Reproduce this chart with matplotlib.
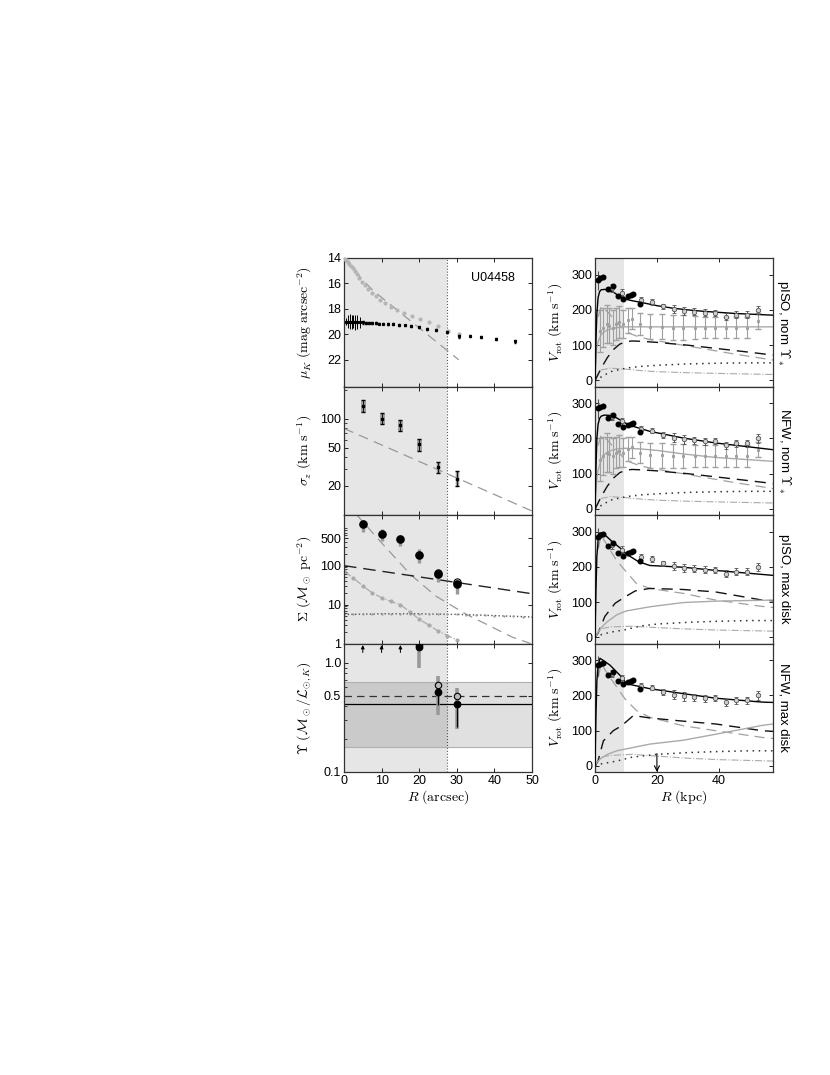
import matplotlib
matplotlib.use("Agg")
import matplotlib.pyplot as plt

plt.rcParams["font.family"] = ["Liberation Sans", "DejaVu Sans"]
plt.rcParams["mathtext.fontset"] = "cm"
plt.rcParams["font.size"] = 9

SHADE = "#e6e6e6"
R_IN_ARC = 27.5
R_IN_KPC = 9.4

# ---------------- left column data (arcsec) ----------------
# surface brightness
sb_gray_r = [0.2, 0.6, 1.0, 1.4, 1.8, 2.3, 2.8, 3.4, 4.1, 4.8, 5.5, 6.3, 7.4, 8.5,
             9.6, 11.0, 12.5, 14.2, 16.0, 18.0, 20.2, 22.5, 25.0, 27.6, 30.6]
sb_gray_mu = [14.05, 14.15, 14.3, 14.45, 14.6, 14.8, 15.0, 15.25, 15.55, 15.85, 16.1, 16.4,
              16.75, 17.0, 17.3, 17.55, 17.85, 18.1, 18.35, 18.55, 18.8, 19.0, 19.35, 19.7, 20.0]
sb_blk_r = [0.6, 1.0, 1.5, 2.0, 2.5, 3.0, 3.5, 4.2, 5.0, 5.8, 6.6, 7.5, 8.4, 9.4, 10.5,
            11.7, 13.0, 14.5, 16.1, 17.9, 19.9, 22.1, 24.6, 27.5, 30.5, 33.5, 36.5, 40.5, 45.5]
sb_blk_mu = [19.0, 19.0, 19.0, 19.0, 19.0, 19.05, 19.05, 19.05, 19.05, 19.1, 19.1, 19.1, 19.1,
             19.15, 19.15, 19.2, 19.2, 19.25, 19.3, 19.35, 19.45, 19.55, 19.65, 19.8, 20.15,
             20.1, 20.2, 20.35, 20.55]
sb_blk_err = [0.3, 0.5, 0.6, 0.55, 0.5, 0.6, 0.55, 0.45, 0.1, 0.08, 0.06, 0.06, 0.06, 0.06,
              0.06, 0.06, 0.06, 0.06, 0.07, 0.07, 0.08, 0.08, 0.08, 0.1, 0.1, 0.08, 0.08, 0.08, 0.1]
sb_disk_r = [0.0, 2.0, 4.0, 7.5, 15.0, 30.5]
sb_disk_mu = [14.05, 14.8, 15.4, 16.5, 18.3, 22.0]

# stellar velocity dispersion
sig_r = [5, 10, 15, 20, 25, 30]
sig_v = [134, 100, 86, 54.5, 31.8, 23.5]
sig_lo = [118, 88, 75, 46, 27.4, 20.0]
sig_hi = [157, 114, 97, 61, 35.7, 28.7]
sig_mod_r = [0, 50]
sig_mod_v = [79, 11]

# surface mass density
sd_r = [5, 10, 15, 20, 25, 30]
sd_v = [1160, 650, 478, 190, 61, 33]
sd_lo = [733, 420, 320, 120, 38, 19]
sd_hi = [1480, 850, 620, 260, 80, 44]
sd_open_r = [25, 30]
sd_open_v = [66, 38.5]
sd_dyn_r = [0, 50]
sd_dyn_v = [100, 19]
sd_star_r = [3.3, 9.3, 17.7, 24.4, 32.4, 44.8, 49.6]
sd_star_v = [2065, 457, 59, 16.6, 5.7, 1.45, 1.0]
sd_gas_r = [0, 2.5, 5, 7.5, 10, 12.5, 15, 17.5, 20, 22.5, 25, 27.5, 30]
sd_gas_v = [71, 48, 30, 20, 15, 12, 10, 6.5, 4.2, 3.0, 2.1, 1.6, 1.25]
sd_hi_r = [0, 2.5, 5, 7.5, 10, 12.5, 15, 17.5, 20, 22.5, 25, 27.5, 30, 32.5, 35, 37.5,
           40, 42.5, 45, 47.5, 50]
sd_hi_v = [5.6, 5.6, 5.7, 5.7, 5.8, 5.8, 5.8, 5.8, 5.8, 5.7, 5.7, 5.6, 5.6, 5.5, 5.4, 5.3,
           5.2, 5.1, 5.0, 4.9, 4.8]

# mass-to-light ratio
ml_r = [20, 25, 30]
ml_v = [1.40, 0.545, 0.415]
ml_open = [1.44, 0.62, 0.50]
ml_glo = [0.9, 0.33, 0.25]
ml_ghi = [1.43, 0.76, 0.59]
ml_blo = [1.30, 0.41, 0.26]
ml_bhi = [1.45, 0.60, 0.42]
ml_lim_r = [5, 10, 15]
ml_lim_v = [1.24, 1.24, 1.24]
ml_mean = 0.415
ml_nom = 0.5
ml_band = (0.17, 0.66)

# ---------------- right column data (kpc) ----------------
vin_r = [1.1, 1.6, 2.5, 4.3, 5.9, 7.5, 8.9, 10.7, 11.6, 12.4, 14.5]
vin_v = [286, 290, 292, 259, 267, 240, 232, 238, 241, 245, 217]
vout_r = [5.4, 8.6, 15.0, 18.3, 22.0, 25.5, 28.7, 32.0, 35.5, 38.9, 42.3, 45.7, 49.2, 52.7]
vout_v = [262, 248, 228, 222, 210, 202, 197, 195, 192, 192, 181, 186, 186, 200]
vout_e = [10, 10, 8, 8, 8, 12, 12, 10, 10, 8, 10, 10, 10, 12]

vh_r = [1.6, 2.7, 3.8, 4.6, 5.7, 6.7, 7.7, 8.9, 10.5, 11.8, 14.5, 17.7, 21.5, 25.3,
        28.5, 32.3, 35.5, 38.9, 42.3, 45.7, 49.2, 52.7]
vh_v = [140, 150, 160, 155, 150, 160, 165, 160, 170, 175, 160, 152, 152, 150,
        150, 150, 150, 150, 150, 150, 150, 168]
vh_e = [60, 55, 55, 50, 50, 45, 45, 40, 35, 30, 30, 35, 35, 35, 35, 32, 30, 30, 30, 30, 30, 22]

# model curves per panel: total, halo, disk, bulge, gas, extra
mods = {
    "pISO, nom": {
        "tot": ([0, 0.3, 0.6, 1, 1.5, 2, 3, 4, 6, 8, 10, 12, 15, 20, 25, 30, 35, 40, 45, 50, 57.5],
                [0, 110, 190, 235, 252, 257, 258, 257, 250, 238, 230, 226, 221, 212, 205, 200, 196, 193, 190, 188, 185]),
        "halo": ([0, 0.5, 1, 2, 3, 4, 6, 8, 10, 15, 20, 30, 40, 57.5],
                 [0, 90, 110, 130, 138, 143, 148, 151, 152, 152, 152, 152, 152, 152]),
        "disk": ([0, 2, 4, 6, 8, 10, 12, 15, 20, 30, 40, 50, 57.5],
                 [0, 35, 65, 88, 103, 110, 112, 111, 108, 100, 90, 80, 72]),
        "bulge": ([1, 2, 4, 7, 9, 11.3, 14, 17.7, 25, 35, 45, 57.5],
                  [180, 210, 195, 165, 148, 133, 124, 116, 105, 90, 75, 58]),
        "gas": ([0, 2, 5, 10, 15, 20, 30, 40, 50, 57.5],
                [0, 10, 25, 35, 40, 43, 47, 49, 50, 50]),
        "dd": ([0, 2, 5, 10, 15, 20, 30, 40, 57.5],
               [0, 30, 35, 32, 28, 25, 22, 20, 17]),
    },
    "NFW, nom": {
        "tot": ([0, 0.3, 0.6, 1, 1.5, 2, 3, 5, 7, 9.7, 12, 17.7, 28.5, 39, 57.5],
                [0, 110, 200, 240, 257, 263, 266, 265, 258, 244, 235, 220, 201, 187, 168]),
        "halo": ([0, 0.5, 1, 2, 3, 5, 7, 9.7, 15, 20, 28.5, 39, 57.5],
                 [0, 80, 110, 140, 155, 165, 170, 172, 170, 166, 156, 146, 135]),
        "disk": ([0, 2, 4, 6, 8, 10, 12, 15, 20, 30, 40, 50, 57.5],
                 [0, 35, 65, 88, 103, 110, 112, 111, 108, 100, 90, 80, 72]),
        "bulge": ([1, 2, 4, 7, 9, 11.3, 14, 17.7, 25, 35, 45, 57.5],
                  [180, 210, 195, 165, 148, 133, 124, 116, 105, 90, 75, 58]),
        "gas": ([0, 2, 5, 10, 15, 20, 30, 40, 50, 57.5],
                [0, 10, 25, 35, 40, 43, 47, 49, 50, 50]),
        "dd": ([0, 2, 5, 10, 15, 20, 30, 40, 57.5],
               [0, 30, 35, 32, 28, 25, 22, 20, 17]),
    },
    "pISO, max disk": {
        "tot": ([0, 0.3, 0.6, 1, 1.5, 2, 3, 5.4, 8.6, 10.2, 14, 17.7, 28.5, 39, 57.5],
                [0, 130, 230, 275, 292, 297, 292, 273, 250, 236, 215, 204, 199, 190, 176]),
        "halo": ([0, 1, 2, 4, 7, 10, 17.7, 28.5, 39, 57.5],
                 [0, 15, 28, 45, 64, 75, 87, 99, 103, 106]),
        "disk": ([0, 1, 3.2, 6.5, 9.7, 13, 17.7, 28.5, 39, 54, 57.5],
                 [0, 13, 60, 97, 115, 132, 139, 136, 129, 106, 104]),
        "bulge": ([1, 2, 4, 7, 9.7, 13.4, 17.7, 28.5, 39, 54, 57.5],
                  [250, 290, 260, 218, 190, 153, 139, 125, 106, 88, 85]),
        "gas": ([0, 2, 5, 9.7, 15, 20, 30, 40, 50, 57.5],
                [0, 8, 15, 22, 33, 38, 43, 46, 48, 48]),
        "dd": ([0, 2, 5, 12, 20, 30, 40, 57.5],
               [0, 25, 30, 32, 28, 24, 21, 18]),
    },
    "NFW, max disk": {
        "tot": ([0, 0.3, 0.6, 1, 1.6, 2.5, 4.8, 8.6, 10.2, 17.7, 28.5, 39, 54, 57.5],
                [0, 140, 240, 285, 305, 300, 286, 252, 233, 219, 205, 192, 181, 180]),
        "halo": ([0, 0.5, 1, 2, 4, 7, 17.7, 28.5, 39, 54, 57.5],
                 [0, 10, 14, 22, 33, 43, 62, 73, 90, 115, 119]),
        "disk": ([0, 1, 2.7, 5.9, 8.6, 12.4, 17.7, 28.5, 39, 54, 57.5],
                 [0, 15, 71, 100, 114, 143, 136, 127, 119, 100, 98]),
        "bulge": ([1, 2, 4, 7, 9.7, 13.4, 17.7, 28.5, 39, 54, 57.5],
                  [250, 290, 262, 224, 190, 157, 138, 114, 100, 81, 78]),
        "gas": ([0, 2, 7, 12, 20, 30, 40, 50, 57.5],
                [0, 6, 14, 25, 33, 38, 41, 43, 43]),
        "dd": ([0, 2, 5, 12, 20, 30, 40, 57.5],
               [0, 25, 30, 33, 28, 22, 18, 14]),
    },
}
panel_names = ["pISO, nom", "NFW, nom", "pISO, max disk", "NFW, max disk"]
side_labels = [r"pISO, nom $\Upsilon_*$", r"NFW, nom $\Upsilon_*$", "pISO, max disk", "NFW, max disk"]

# ---------------- layout ----------------
W, H = 830, 1075
fig = plt.figure(figsize=(W / 100, H / 100), dpi=100)
top0, ph = 258, 128.5


def box(x0, w, row):
    t = top0 + ph * row
    return [x0 / W, 1 - (t + ph) / H, w / W, ph / H]


def style(ax):
    ax.tick_params(direction="in", top=True, right=True, length=3, width=0.6,
                   labelsize=9, pad=2)
    ax.tick_params(which="minor", direction="in", length=1.8, width=0.5)
    for s in ax.spines.values():
        s.set_color("#333333")
        s.set_linewidth(0.9)


def errs(v, lo, hi):
    return [[a - b for a, b in zip(v, lo)], [c - a for a, c in zip(v, hi)]]


left = [fig.add_axes(box(344, 188, i)) for i in range(4)]
right = [fig.add_axes(box(595, 178, i)) for i in range(4)]

for ax in left:
    ax.axvspan(0, R_IN_ARC, color=SHADE, lw=0, zorder=0)
    ax.axvline(R_IN_ARC, color="#555555", ls=":", lw=0.8, zorder=1)
    ax.set_xlim(0, 50)
    ax.set_xticks([0, 10, 20, 30, 40, 50])
    style(ax)
for ax in left[:3]:
    ax.tick_params(labelbottom=False)

# panel 1: surface brightness
ax = left[0]
ax.plot(sb_gray_r, sb_gray_mu, "o", color="#b5b5b5", ms=3.0, mec="none", zorder=3)
ax.plot(sb_disk_r, sb_disk_mu, color="#999999", ls=(0, (8, 5)), lw=0.9, zorder=2)
ax.errorbar(sb_blk_r, sb_blk_mu, yerr=sb_blk_err, fmt="s", ms=1.3, color="k",
            elinewidth=0.7, capsize=0, zorder=4)
ax.errorbar(sb_blk_r[8:], sb_blk_mu[8:], yerr=sb_blk_err[8:], fmt="none", ecolor="k",
            elinewidth=0.6, capsize=0.9, zorder=4)
ax.set_ylim(24.1, 14)
ax.set_yticks([14, 16, 18, 20, 22])
ax.text(39.5, 15.6, "U04458", ha="center", va="center", fontsize=9)
ax.set_ylabel(r"$\mu_K\ (\mathrm{mag\ arcsec^{-2}})$", fontsize=10)

# panel 2: velocity dispersion
ax = left[1]
ax.set_yscale("log")
ax.plot(sig_mod_r, sig_mod_v, color="#999999", ls=(0, (8, 5)), lw=0.9, zorder=2)
ax.vlines(sig_r[:4], sig_lo[:4], sig_hi[:4], color="#9a9a9a", lw=3.5, zorder=3)
ax.errorbar(sig_r[4:], sig_v[4:], yerr=errs(sig_v[4:], sig_lo[4:], sig_hi[4:]),
            fmt="none", ecolor="#9a9a9a", elinewidth=2.5, zorder=3)
ax.errorbar(sig_r, sig_v, yerr=errs(sig_v, sig_lo, sig_hi),
            fmt="s", ms=1.5, color="k", elinewidth=0.6, capsize=1.2, zorder=4)
ax.set_ylim(10, 215)
ax.set_yticks([20, 50, 100])
ax.set_yticklabels(["20", "50", "100"])
ax.set_ylabel(r"$\sigma_z\ (\mathrm{km\ s^{-1}})$", fontsize=10)

# panel 3: surface mass density
ax = left[2]
ax.set_yscale("log")
ax.plot(sd_star_r, sd_star_v, color="#999999", ls=(0, (8, 5)), lw=0.9, zorder=2)
ax.plot(sd_dyn_r, sd_dyn_v, color="#222222", ls=(0, (9, 5)), lw=1.0, zorder=2)
ax.plot(sd_gas_r, sd_gas_v, color="#aaaaaa", ls="-.", lw=0.9, marker="o", ms=2,
        zorder=2)
ax.plot(sd_hi_r, sd_hi_v, color="#555555", ls=":", lw=1.0, marker="o", ms=1.6,
        mfc="#999999", mec="none", zorder=2)
ax.errorbar(sd_r, sd_v, yerr=errs(sd_v, sd_lo, sd_hi),
            fmt="none", ecolor="#999999", elinewidth=2.4, zorder=3)
ax.plot(sd_open_r, sd_open_v, "o", mfc="none", mec="k", ms=5.2, mew=0.8, zorder=4)
ax.plot(sd_r, sd_v, "o", color="k", ms=5.2, zorder=5)
ax.set_ylim(1, 2000)
ax.set_yticks([1, 10, 100, 500])
ax.set_yticklabels(["1", "10", "100", "500"])
ax.set_ylabel(r"$\Sigma\ (\mathcal{M}_\odot\ \mathrm{pc}^{-2})$", fontsize=10)

# panel 4: mass-to-light
ax = left[3]
ax.set_yscale("log")
ax.axhspan(ml_band[0], ml_band[1], facecolor="k", alpha=0.12, edgecolor="none", zorder=1)
ax.axhline(ml_band[0], color="#b0b0b0", lw=0.8, zorder=1)
ax.axhline(ml_band[1], color="#b0b0b0", lw=0.8, zorder=1)
ax.axhline(ml_mean, color="k", lw=0.9, zorder=2)
ax.axhline(ml_nom, color="#333333", ls=(0, (6, 4)), lw=0.9, zorder=2)
ax.vlines(ml_r, ml_glo, ml_ghi, color="#999999", lw=2.6, zorder=3)
ax.vlines(ml_r, ml_blo, ml_bhi, color="k", lw=0.9, zorder=4)
ax.plot(ml_r, ml_open, "o", mfc="#bbbbbb", mec="k", ms=4.6, mew=0.8, zorder=5)
ax.plot(ml_r, ml_v, "o", color="k", ms=4.6, zorder=6)
for r, v in zip(ml_lim_r, ml_lim_v):
    ax.annotate("", xy=(r, v * 1.17), xytext=(r, v),
                arrowprops=dict(arrowstyle="-|>", color="k", lw=0.7,
                                mutation_scale=5, shrinkA=0, shrinkB=0))
ax.set_ylim(0.1, 1.5)
ax.set_yticks([0.1, 0.5, 1.0])
ax.set_yticklabels(["0.1", "0.5", "1.0"])
ax.set_ylabel(r"$\Upsilon\ (\mathcal{M}_\odot/\mathcal{L}_{\odot,K})$", fontsize=10)
ax.set_xlabel(r"$R\ (\mathrm{arcsec})$", fontsize=10, labelpad=1)

for ax in left:
    ax.yaxis.set_label_coords(-0.16, 0.5)

# ---------------- right column ----------------
for i, ax in enumerate(right):
    m = mods[panel_names[i]]
    ax.axvspan(0, R_IN_KPC, color=SHADE, lw=0, zorder=0)
    ax.plot(*m["dd"], color="#aaaaaa", ls="-.", lw=0.8, zorder=2)
    ax.plot(*m["gas"], color="#333333", ls=(0, (1, 3)), lw=1.1, zorder=2)
    ax.plot(*m["bulge"], color="#a0a0a0", ls=(0, (8, 5)), lw=0.9, zorder=2)
    ax.plot(*m["disk"], color="#111111", ls=(0, (8, 5)), lw=1.0, zorder=2)
    ax.plot(*m["halo"], color="#aaaaaa", lw=1.0, zorder=2)
    if i < 2:
        ax.errorbar(vh_r, vh_v, yerr=vh_e, fmt="s", ms=1.2, color="#a0a0a0",
                    elinewidth=0.8, capsize=2, zorder=3)
    ax.plot(*m["tot"], color="k", lw=1.0, zorder=4)
    ax.errorbar(vout_r, vout_v, yerr=vout_e, fmt="o", ms=3.2, mfc="#d0d0d0", mec="#555555",
                ecolor="#555555", elinewidth=0.7, capsize=1.5, mew=0.6, zorder=5)
    ax.errorbar(vin_r[:1], vin_v[:1], yerr=[[30], [25]], fmt="none", ecolor="#555555",
                elinewidth=0.8, zorder=5)
    ax.plot(vin_r, vin_v, "o", color="k", ms=3.3, zorder=6)
    ax.set_xlim(0, 57.5)
    ax.set_ylim(-17, 347)
    ax.set_xticks([0, 20, 40])
    ax.set_yticks([0, 100, 200, 300])
    style(ax)
    ax.set_ylabel(r"$V_\mathrm{rot}\ (\mathrm{km\ s^{-1}})$", fontsize=10)
    ax.yaxis.set_label_coords(-0.17, 0.5)
    ax.text(1.06, 0.5, side_labels[i], transform=ax.transAxes, rotation=270,
            ha="center", va="center", fontsize=9.5)
    if i < 3:
        ax.tick_params(labelbottom=False)

right[3].annotate("", xy=(20, -17), xytext=(20, 35),
                  arrowprops=dict(arrowstyle="->", color="k", lw=0.8,
                                  shrinkA=0, shrinkB=0))
right[3].set_xlabel(r"$R\ (\mathrm{kpc})$", fontsize=10, labelpad=1)

fig.savefig("out.png", dpi=100)
